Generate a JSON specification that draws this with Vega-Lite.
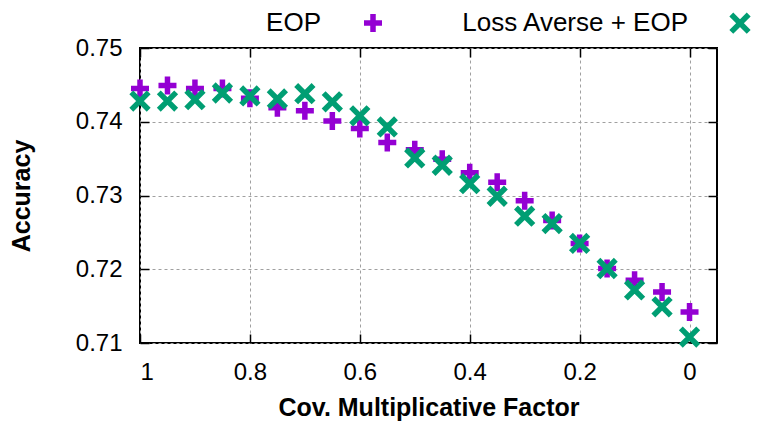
{
  "$schema": "https://vega.github.io/schema/vega-lite/v6.json",
  "width": 577,
  "height": 295,
  "autosize": "none",
  "padding": {"left": 140, "top": 48, "right": 47, "bottom": 82},
  "config": {
    "font": "Liberation Sans",
    "view": {"stroke": "black", "strokeWidth": 2},
    "axis": {"domain": false, "labelColor": "black", "titleColor": "black", "tickColor": "black", "tickWidth": 1.5}
  },
  "data": {
    "values": [
      {"f": 1.0, "s": "EOP", "acc": 0.7445},
      {"f": 0.95, "s": "EOP", "acc": 0.7449},
      {"f": 0.9, "s": "EOP", "acc": 0.7445},
      {"f": 0.85, "s": "EOP", "acc": 0.7445},
      {"f": 0.8, "s": "EOP", "acc": 0.7432},
      {"f": 0.75, "s": "EOP", "acc": 0.7419},
      {"f": 0.7, "s": "EOP", "acc": 0.7415},
      {"f": 0.65, "s": "EOP", "acc": 0.7401},
      {"f": 0.6, "s": "EOP", "acc": 0.7391},
      {"f": 0.55, "s": "EOP", "acc": 0.7372},
      {"f": 0.5, "s": "EOP", "acc": 0.7362},
      {"f": 0.45, "s": "EOP", "acc": 0.7349},
      {"f": 0.4, "s": "EOP", "acc": 0.7331},
      {"f": 0.35, "s": "EOP", "acc": 0.7318},
      {"f": 0.3, "s": "EOP", "acc": 0.7293},
      {"f": 0.25, "s": "EOP", "acc": 0.7266},
      {"f": 0.2, "s": "EOP", "acc": 0.7235},
      {"f": 0.15, "s": "EOP", "acc": 0.7201},
      {"f": 0.1, "s": "EOP", "acc": 0.7185},
      {"f": 0.05, "s": "EOP", "acc": 0.7169},
      {"f": 0.0, "s": "EOP", "acc": 0.7142},
      {"f": 1.0, "s": "Loss Averse + EOP", "acc": 0.7428},
      {"f": 0.95, "s": "Loss Averse + EOP", "acc": 0.7428},
      {"f": 0.9, "s": "Loss Averse + EOP", "acc": 0.743},
      {"f": 0.85, "s": "Loss Averse + EOP", "acc": 0.7439},
      {"f": 0.8, "s": "Loss Averse + EOP", "acc": 0.7435},
      {"f": 0.75, "s": "Loss Averse + EOP", "acc": 0.7431},
      {"f": 0.7, "s": "Loss Averse + EOP", "acc": 0.7438},
      {"f": 0.65, "s": "Loss Averse + EOP", "acc": 0.7427},
      {"f": 0.6, "s": "Loss Averse + EOP", "acc": 0.7408},
      {"f": 0.55, "s": "Loss Averse + EOP", "acc": 0.7393},
      {"f": 0.5, "s": "Loss Averse + EOP", "acc": 0.7351},
      {"f": 0.45, "s": "Loss Averse + EOP", "acc": 0.7341},
      {"f": 0.4, "s": "Loss Averse + EOP", "acc": 0.7316},
      {"f": 0.35, "s": "Loss Averse + EOP", "acc": 0.7299},
      {"f": 0.3, "s": "Loss Averse + EOP", "acc": 0.7272},
      {"f": 0.25, "s": "Loss Averse + EOP", "acc": 0.7262},
      {"f": 0.2, "s": "Loss Averse + EOP", "acc": 0.7235},
      {"f": 0.15, "s": "Loss Averse + EOP", "acc": 0.7201},
      {"f": 0.1, "s": "Loss Averse + EOP", "acc": 0.7172},
      {"f": 0.05, "s": "Loss Averse + EOP", "acc": 0.7149},
      {"f": 0.0, "s": "Loss Averse + EOP", "acc": 0.7108}
    ]
  },
  "resolve": {"axis": {"x": "independent", "y": "independent"}},
  "layer": [
    {
      "mark": {"type": "point", "filled": false, "size": 400, "strokeWidth": 5.5, "opacity": 0, "clip": false},
      "encoding": {
        "x": {"field": "f", "type": "quantitative",
          "scale": {"domain": [1, -0.05], "nice": false, "zero": false},
          "axis": {"orient": "top", "values": [1, 0.8, 0.6, 0.4, 0.2, 0], "labels": false, "grid": false, "tickSize": -9, "title": null}},
        "y": {"field": "acc", "type": "quantitative",
          "scale": {"domain": [0.71, 0.75], "nice": false, "zero": false},
          "axis": {"orient": "right", "values": [0.71, 0.72, 0.73, 0.74, 0.75], "labels": false, "grid": false, "tickSize": -9, "title": null}}
      }
    },
    {
      "mark": {"type": "point", "filled": false, "size": 400, "strokeWidth": 5.5, "opacity": 1, "clip": false},
      "encoding": {
        "x": {"field": "f", "type": "quantitative",
          "scale": {"domain": [1, -0.05], "nice": false, "zero": false},
          "axis": {"orient": "bottom", "values": [1, 0.8, 0.6, 0.4, 0.2, 0], "format": "~g", "tickSize": -9, "labelPadding": 26,
            "labelFontSize": 24, "grid": true, "gridColor": "#a0a0a0", "gridDash": [3, 3], "gridWidth": 1,
            "title": "Cov. Multiplicative Factor", "titleFontSize": 25, "titleFontWeight": "bold", "titlePadding": 11}},
        "y": {"field": "acc", "type": "quantitative",
          "scale": {"domain": [0.71, 0.75], "nice": false, "zero": false},
          "axis": {"orient": "left", "values": [0.71, 0.72, 0.73, 0.74, 0.75], "format": ".2f", "tickSize": -9, "labelPadding": 27,
            "labelFontSize": 24, "grid": true, "gridColor": "#a0a0a0", "gridDash": [3, 3], "gridWidth": 1,
            "title": "Accuracy", "titleFontSize": 25, "titleFontWeight": "bold", "titlePadding": 41}},
        "color": {"field": "s", "type": "nominal",
          "scale": {"domain": ["EOP", "Loss Averse + EOP"], "range": ["#9400D3", "#009E73"]},
          "legend": {"title": null, "orient": "none", "legendX": 220, "legendY": -38, "direction": "horizontal",
            "labelFontSize": 26, "labelAlign": "right", "labelOffset": -65, "columnPadding": 67, "labelLimit": 400,
            "symbolStrokeWidth": 5.5, "symbolSize": 400, "labelColor": "black"}},
        "shape": {"field": "s", "type": "nominal",
          "scale": {"domain": ["EOP", "Loss Averse + EOP"], "range": ["M-0.9,0L0.9,0M0,-0.9L0,0.9", "M-0.87,-0.87L0.87,0.87M-0.87,0.87L0.87,-0.87"]},
          "legend": null}
      }
    }
  ]
}
